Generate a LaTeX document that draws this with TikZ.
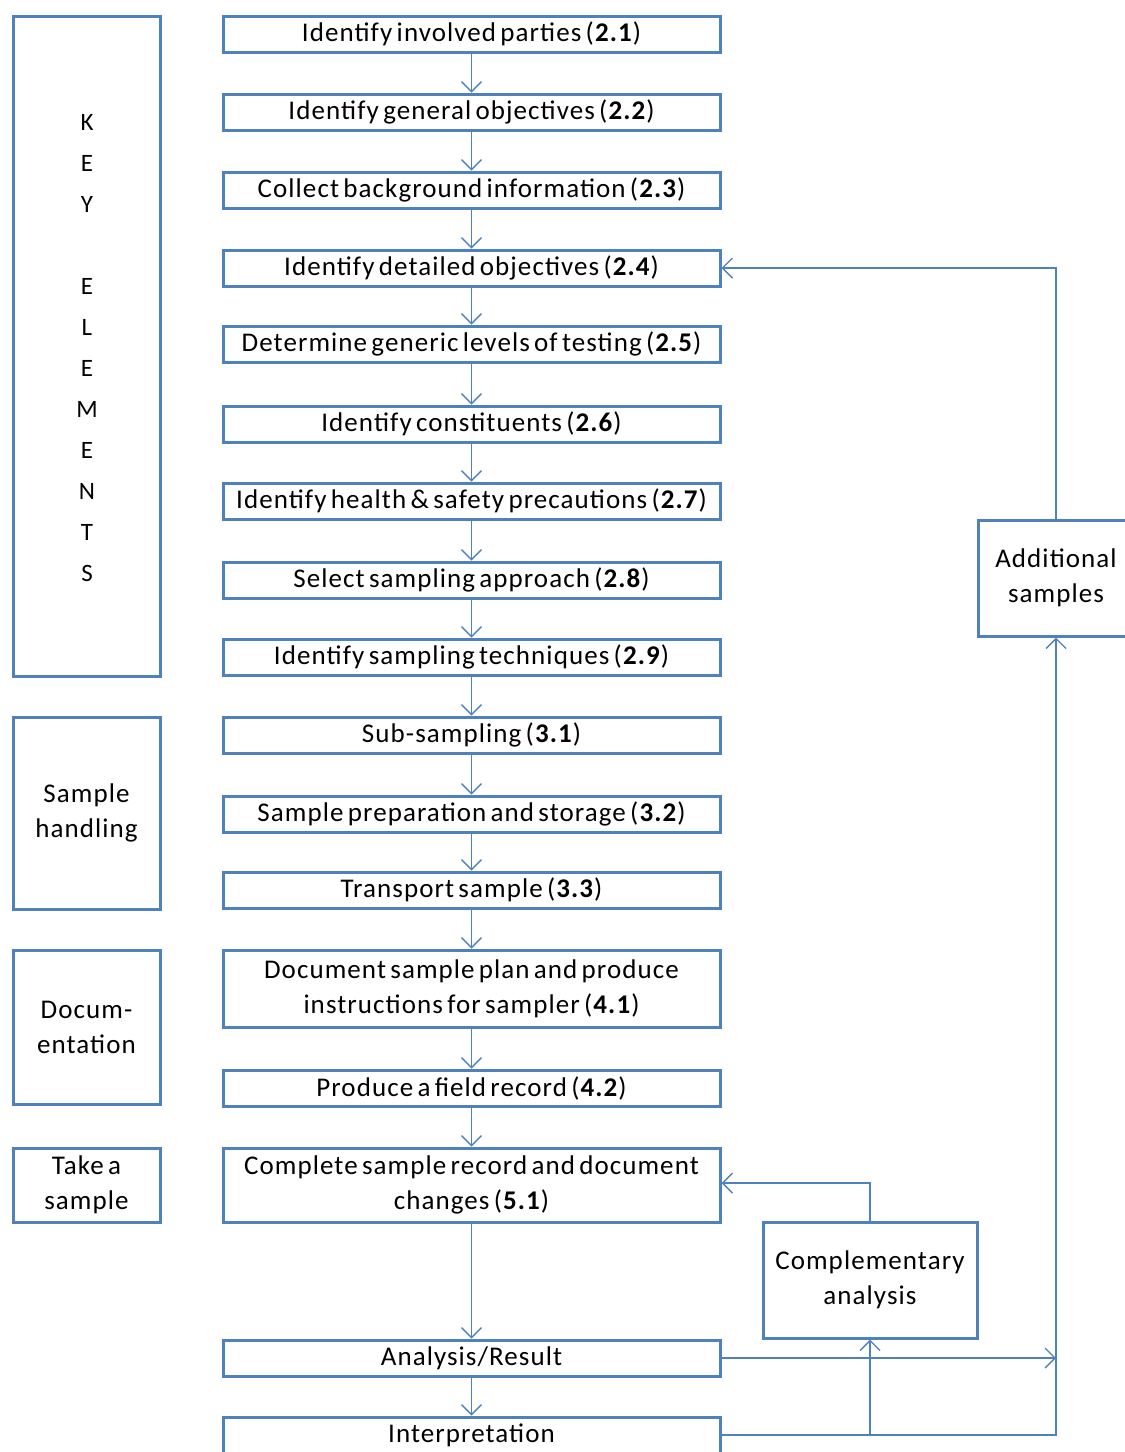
\documentclass[tikz,border=0pt]{standalone}
\usepackage{fontspec}
\setmainfont{Carlito}[LetterSpace=4,WordSpace=0.6]
\usetikzlibrary{arrows.meta}
\definecolor{bl}{HTML}{4F81BD}
\begin{document}
\begin{tikzpicture}[x=1pt,y=-1pt,
  txt/.style={font=\fontsize{27}{35}\selectfont, text=black},
  box/.style={draw=bl, line width=3pt, inner sep=0pt, align=center, txt},
  mainbox/.style={box, minimum width=497pt, minimum height=36pt},
  conn/.style={draw=bl, line width=1.4pt, -{Straight Barb[length=10pt,width=20pt,line width=1.4pt]}},
  line/.style={draw=bl, line width=1.4pt}]
\useasboundingbox (0,0) rectangle (1125,1452);
\clip (0,0) rectangle (1125,1452);
% main column
\node[mainbox] (b1) at (471.5,34) {Identify involved parties (\textbf{2.1})};
\node[mainbox] (b2) at (471.5,112) {Identify general objectives (\textbf{2.2})};
\node[mainbox] (b3) at (471.5,190) {Collect background information (\textbf{2.3})};
\node[mainbox] (b4) at (471.5,268) {Identify detailed objectives (\textbf{2.4})};
\node[mainbox] (b5) at (471.5,344) {Determine generic levels of testing (\textbf{2.5})};
\node[mainbox] (b6) at (471.5,424) {Identify constituents (\textbf{2.6})};
\node[mainbox] (b7) at (471.5,501) {Identify health \& safety precautions (\textbf{2.7})};
\node[mainbox] (b8) at (471.5,580) {Select sampling approach (\textbf{2.8})};
\node[mainbox] (b9) at (471.5,657) {Identify sampling techniques (\textbf{2.9})};
\node[mainbox] (b10) at (471.5,735) {Sub-sampling (\textbf{3.1})};
\node[mainbox] (b11) at (471.5,814) {Sample preparation and storage (\textbf{3.2})};
\node[mainbox] (b12) at (471.5,890) {Transport sample (\textbf{3.3})};
\node[mainbox, minimum height=77pt] (b13) at (471.5,988.5) {Document sample plan and produce\\instructions for sampler (\textbf{4.1})};
\node[mainbox] (b14) at (471.5,1088) {Produce a field record (\textbf{4.2})};
\node[mainbox, minimum height=74pt] (b15) at (471.5,1185) {Complete sample record and document\\changes (\textbf{5.1})};
\node[mainbox] (b16) at (471.5,1358) {Analysis/Result};
\node[mainbox] (b17) at (471.5,1435) {Interpretation};
% left key boxes
\node[box, minimum width=147pt, minimum height=660pt] (key) at (86.5,346) {};
\node[txt, align=center, font=\fontsize{25}{41}\selectfont] (keytxt) at (87,348) {K\\E\\Y\\[41pt]E\\L\\E\\M\\E\\N\\T\\S};
\node[box, minimum width=147pt, minimum height=192pt] (sh) at (86.5,813) {Sample\\handling};
\node[box, minimum width=147pt, minimum height=154pt] (doc) at (86.5,1027) {Docum-\\entation};
\node[box, minimum width=147pt, minimum height=74pt] (take) at (86.5,1185) {Take a\\sample};
% right boxes
\node[box, minimum width=156pt, minimum height=116pt] (add) at (1056,578) {Additional\\samples};
\node[box, minimum width=214pt, minimum height=116pt] (cmp) at (870,1280) {Complementary\\analysis};
% vertical chain
\foreach \a/\b in {b1/b2,b2/b3,b3/b4,b4/b5,b5/b6,b6/b7,b7/b8,b8/b9,b9/b10,b10/b11,b11/b12,b12/b13,b13/b14,b14/b15,b15/b16,b16/b17}
  \draw[conn] (\a) -- (\b);
% feedback loops
\draw[conn] (add.north) |- (b4.east);
\draw[conn] (cmp.north) |- ([yshift=2pt]b15.east);
\coordinate (anaend) at (add.south |- b16.east);
\draw[conn] (b16.east) -- (anaend);
\draw[conn] (b17.east) -| (add.south);
\coordinate (cmpfoot) at (cmp.south |- b17.east);
\draw[conn] (cmpfoot) -- (cmp.south);
\end{tikzpicture}
\end{document}
